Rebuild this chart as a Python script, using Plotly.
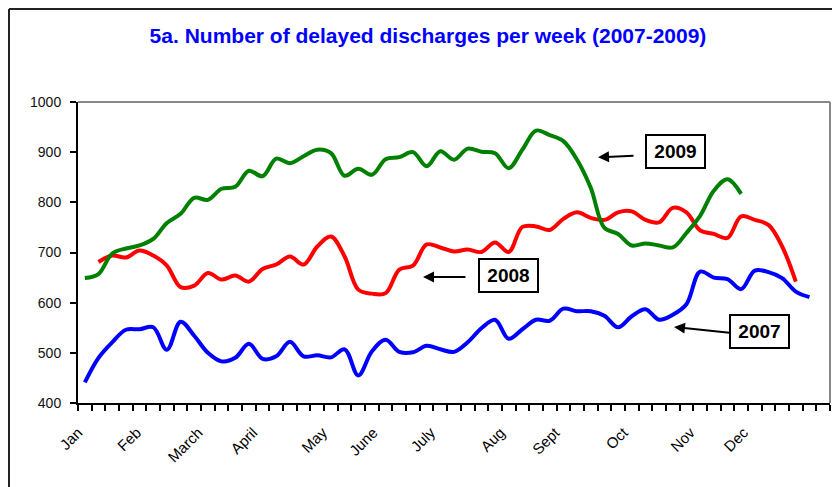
import plotly.graph_objects as go

# ---- data (weekly values) ----
weeks = list(range(55))  # week slots on the category axis

blue_2007 = [441, 490, 521, 546, 547, 551, 506, 562, 534, 500, 483, 490, 518, 488,
             493, 522, 493, 495, 491, 507, 455, 503, 526, 502, 501, 514, 507, 502,
             521, 549, 566, 528, 547, 566, 564, 588, 583, 583, 574, 551, 573, 587,
             566, 576, 597, 662, 650, 647, 627, 664, 661, 649, 622, 611]
red_2008 = [681, 694, 690, 704, 694, 674, 631, 634, 659, 646, 654, 642, 667, 676,
            692, 676, 712, 732, 692, 626, 618, 619, 666, 674, 716, 710, 702, 706,
            701, 720, 701, 751, 752, 745, 767, 780, 769, 765, 780, 782, 765, 760,
            789, 780, 744, 737, 729, 772, 765, 755, 712, 642]
green_2009 = [649, 657, 698, 708, 714, 727, 759, 777, 809, 805, 827, 831, 863, 852,
              887, 878, 892, 905, 898, 853, 867, 855, 886, 890, 900, 872, 902, 885,
              907, 901, 898, 868, 905, 943, 934, 922, 885, 829, 749, 737, 714, 718,
              714, 710, 739, 773, 823, 846, 817]

month_labels = ["Jan", "Feb", "March", "April", "May", "June", "July", "Aug",
                "Sept", "Oct", "Nov", "Dec"]
month_pos = [-0.5, 3.8, 8.3, 12.3, 17.4, 21.1, 25.3, 30.4, 34.4, 39.4, 44.3, 48.2]

y_ticks = [400, 500, 600, 700, 800, 900, 1000]

OFF = 8  # page body margin
W, H = 832, 479
L, R, T, B = 70, 10, 94, 84
PW, PH = W - L - R, H - T - B


def px(x):
    """screen x -> paper x"""
    return (x - OFF - L) / PW


def py(y):
    """screen y -> paper y"""
    return (H - B - (y - OFF)) / PH


fig = go.Figure()
fig.add_trace(go.Scatter(x=weeks[:len(blue_2007)], y=blue_2007, mode="lines",
                         line=dict(color="#0000FF", width=4, shape="spline", smoothing=1),
                         name="2007"))
fig.add_trace(go.Scatter(x=weeks[1:1 + len(red_2008)], y=red_2008, mode="lines",
                         line=dict(color="#FF0000", width=4, shape="spline", smoothing=1),
                         name="2008"))
fig.add_trace(go.Scatter(x=weeks[:len(green_2009)], y=green_2009, mode="lines",
                         line=dict(color="#008000", width=4, shape="spline", smoothing=1),
                         name="2009"))

fig.update_layout(
    width=W, height=H,
    margin=dict(l=L, r=R, t=T, b=B),
    paper_bgcolor="white", plot_bgcolor="white",
    showlegend=False,
    font=dict(family="Liberation Sans, Arial, sans-serif", color="black"),
    title=dict(text="<b>5a. Number of delayed discharges per week (2007-2009)</b>",
               xref="paper", x=px(428), xanchor="center",
               yref="container", y=1 - (36 - OFF) / H, yanchor="middle",
               font=dict(size=21, color="#0000FF")),
    xaxis=dict(range=[-0.5, 54.5], tickmode="array", tickvals=month_pos,
               ticktext=month_labels, tickangle=-45, ticks="",
               ticklabelstandoff=13,
               tickfont=dict(size=15, color="black"),
               minor=dict(ticks="outside", ticklen=6, tickwidth=1.5, tickcolor="black",
                          tick0=-0.5, dtick=1, showgrid=False),
               showline=True, linecolor="black", linewidth=2,
               showgrid=False, zeroline=False, fixedrange=True),
    yaxis=dict(range=[400, 1000], tickmode="array", tickvals=y_ticks,
               ticks="outside", ticklen=6, tickwidth=1.5, tickcolor="black",
               ticklabelstandoff=6,
               tickfont=dict(size=14, color="#111"),
               showline=True, linecolor="black", linewidth=2,
               showgrid=False, zeroline=False, fixedrange=True),
)

shapes = [
    # outer chart frame (top and left visible)
    dict(type="line", xref="paper", yref="paper", x0=px(9), x1=px(850),
         y0=py(9), y1=py(9), line=dict(color="#222", width=2)),
    dict(type="line", xref="paper", yref="paper", x0=px(9), x1=px(9),
         y0=py(9), y1=py(500), line=dict(color="#222", width=2)),
    # plot area border top/right
    dict(type="line", xref="paper", yref="paper", x0=0, x1=1, y0=1, y1=1,
         line=dict(color="#888", width=2)),
    dict(type="line", xref="paper", yref="paper", x0=1, x1=1, y0=0, y1=1,
         line=dict(color="#888", width=2)),
]
fig.update_layout(shapes=shapes)

boxes = [("2009", 675.5, 151.5), ("2008", 508, 275), ("2007", 759.5, 331)]
for txt, cx, cy in boxes:
    fig.add_annotation(xref="paper", yref="paper", x=px(cx), y=py(cy),
                       text="<b>%s</b>" % txt, showarrow=False,
                       font=dict(size=19, color="black"),
                       bordercolor="black", borderwidth=2, borderpad=3,
                       bgcolor="white", width=51, height=25,
                       xanchor="center", yanchor="middle")

arrows = [(598, 157.3, 37, -1.6), (423, 277, 44, 0), (674, 327, 57, 6)]
for hx, hy, ax, ay in arrows:
    fig.add_annotation(xref="paper", yref="paper", x=px(hx), y=py(hy), text="",
                       showarrow=True, arrowhead=2, arrowsize=1.1, arrowwidth=2,
                       arrowcolor="black", ax=ax, ay=ay, standoff=0)

fig.write_html("out.html")
